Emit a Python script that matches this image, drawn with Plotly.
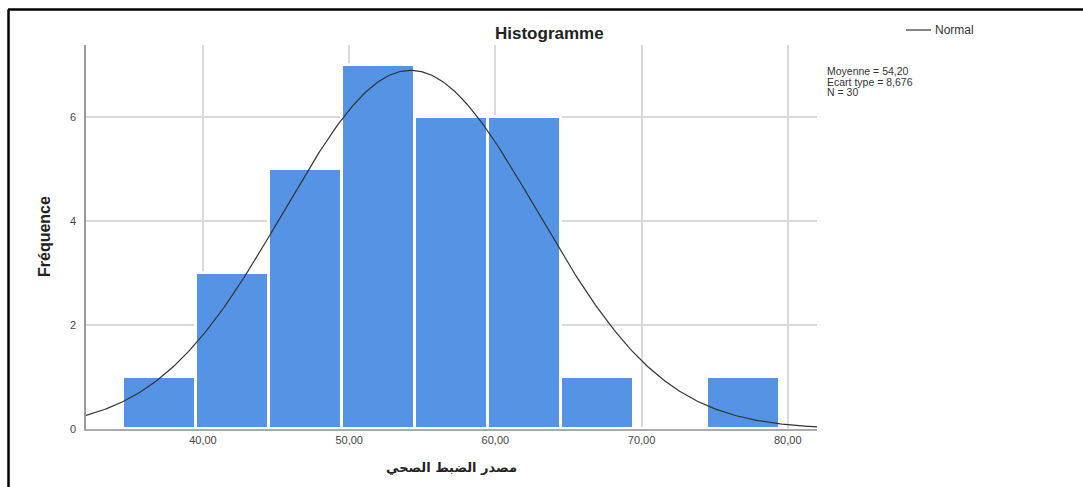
import numpy as np
import plotly.graph_objects as go

# Histogram bins (centres, width 5) and frequencies
bin_centers = [37, 42, 47, 52, 57, 62, 67, 72, 77]
frequencies = [1, 3, 5, 7, 6, 6, 1, 0, 1]
bin_width = 5

# Summary statistics of the variable
mean_value = 54.20
std_value = 8.676
n_obs = 30

x_ticks = [40, 50, 60, 70, 80]
x_tick_labels = ["40,00", "50,00", "60,00", "70,00", "80,00"]
y_ticks = [0, 2, 4, 6]

W, H = 1083, 487
L, R, T, B = 86, 817, 45, 429  # plot area in pixels


def px(x):
    return (x - L) / (R - L)


def py(y):
    return (B - y) / (B - T)


# Fitted normal curve scaled to frequency counts
xs = np.linspace(32, 82, 400)
ys = n_obs * bin_width * np.exp(-0.5 * ((xs - mean_value) / std_value) ** 2) / (std_value * np.sqrt(2 * np.pi))

fig = go.Figure()
fig.add_trace(go.Bar(
    x=bin_centers, y=frequencies, width=bin_width,
    marker=dict(color="#5594e4", line=dict(color="white", width=3)),
    showlegend=False, hoverinfo="x+y",
))
fig.add_trace(go.Scatter(
    x=xs, y=ys, mode="lines",
    line=dict(color="#333333", width=1.2),
    showlegend=False, hoverinfo="skip",
))

sans = "Liberation Sans, Arial, sans-serif"
tick_font = dict(family=sans, size=11, color="#444444")

fig.update_layout(
    width=W, height=H,
    margin=dict(l=L, r=W - R, t=T, b=H - B),
    paper_bgcolor="white", plot_bgcolor="white",
    bargap=0,
    xaxis=dict(
        range=[32, 82], tickvals=x_ticks, ticktext=x_tick_labels,
        showgrid=True, gridcolor="#d9d9d9", gridwidth=1.5,
        showline=True, linecolor="#aaaaaa", linewidth=1.5,
        zeroline=False, ticks="", tickfont=tick_font,
    ),
    yaxis=dict(
        range=[0, (B - T) / 52], tickvals=y_ticks,
        showgrid=True, gridcolor="#d9d9d9", gridwidth=1.5,
        showline=True, linecolor="#999999", linewidth=1.5,
        zeroline=False, ticks="", tickfont=tick_font, ticklabelstandoff=6,
    ),
    shapes=[
        # frame lines along the top and the left side
        dict(type="line", xref="paper", yref="paper",
             x0=px(8), x1=px(1083), y0=py(9.5), y1=py(9.5),
             line=dict(color="black", width=2.5)),
        dict(type="line", xref="paper", yref="paper",
             x0=px(8.5), x1=px(8.5), y0=py(9.5), y1=py(487),
             line=dict(color="black", width=2.5)),
        # legend swatch
        dict(type="line", xref="paper", yref="paper",
             x0=px(906), x1=px(931), y0=py(30), y1=py(30),
             line=dict(color="#333333", width=1.2)),
    ],
    annotations=[
        dict(text="<b>Histogramme</b>", xref="paper", yref="paper",
             x=px(549), y=py(33), showarrow=False, xanchor="center", yanchor="middle",
             font=dict(family=sans, size=17, color="#222222")),
        dict(text="Normal", xref="paper", yref="paper",
             x=px(933), y=py(30), showarrow=False, xanchor="left", yanchor="middle",
             font=dict(family=sans, size=12, color="#333333")),
        dict(text="Moyenne = 54,20", xref="paper", yref="paper",
             x=px(825), y=py(71), showarrow=False, xanchor="left", yanchor="middle",
             font=dict(family=sans, size=10.5, color="#333333")),
        dict(text="Ecart type = 8,676", xref="paper", yref="paper",
             x=px(825), y=py(81.5), showarrow=False, xanchor="left", yanchor="middle",
             font=dict(family=sans, size=10.5, color="#333333")),
        dict(text="N = 30", xref="paper", yref="paper",
             x=px(825), y=py(92), showarrow=False, xanchor="left", yanchor="middle",
             font=dict(family=sans, size=10.5, color="#333333")),
        dict(text="<b>Fréquence</b>", xref="paper", yref="paper",
             x=px(44), y=py(237), showarrow=False, textangle=-90,
             xanchor="center", yanchor="middle",
             font=dict(family="Liberation Sans Narrow, Arial Narrow, Liberation Sans, sans-serif",
                       size=16, color="#222222")),
        dict(text="<b>مصدر الضبط الصحي</b>", xref="paper", yref="paper",
             x=px(451), y=py(467), showarrow=False,
             xanchor="center", yanchor="middle",
             font=dict(family="DejaVu Sans, Noto Sans, sans-serif", size=13, color="#222222")),
    ],
)

fig.write_html("out.html")
